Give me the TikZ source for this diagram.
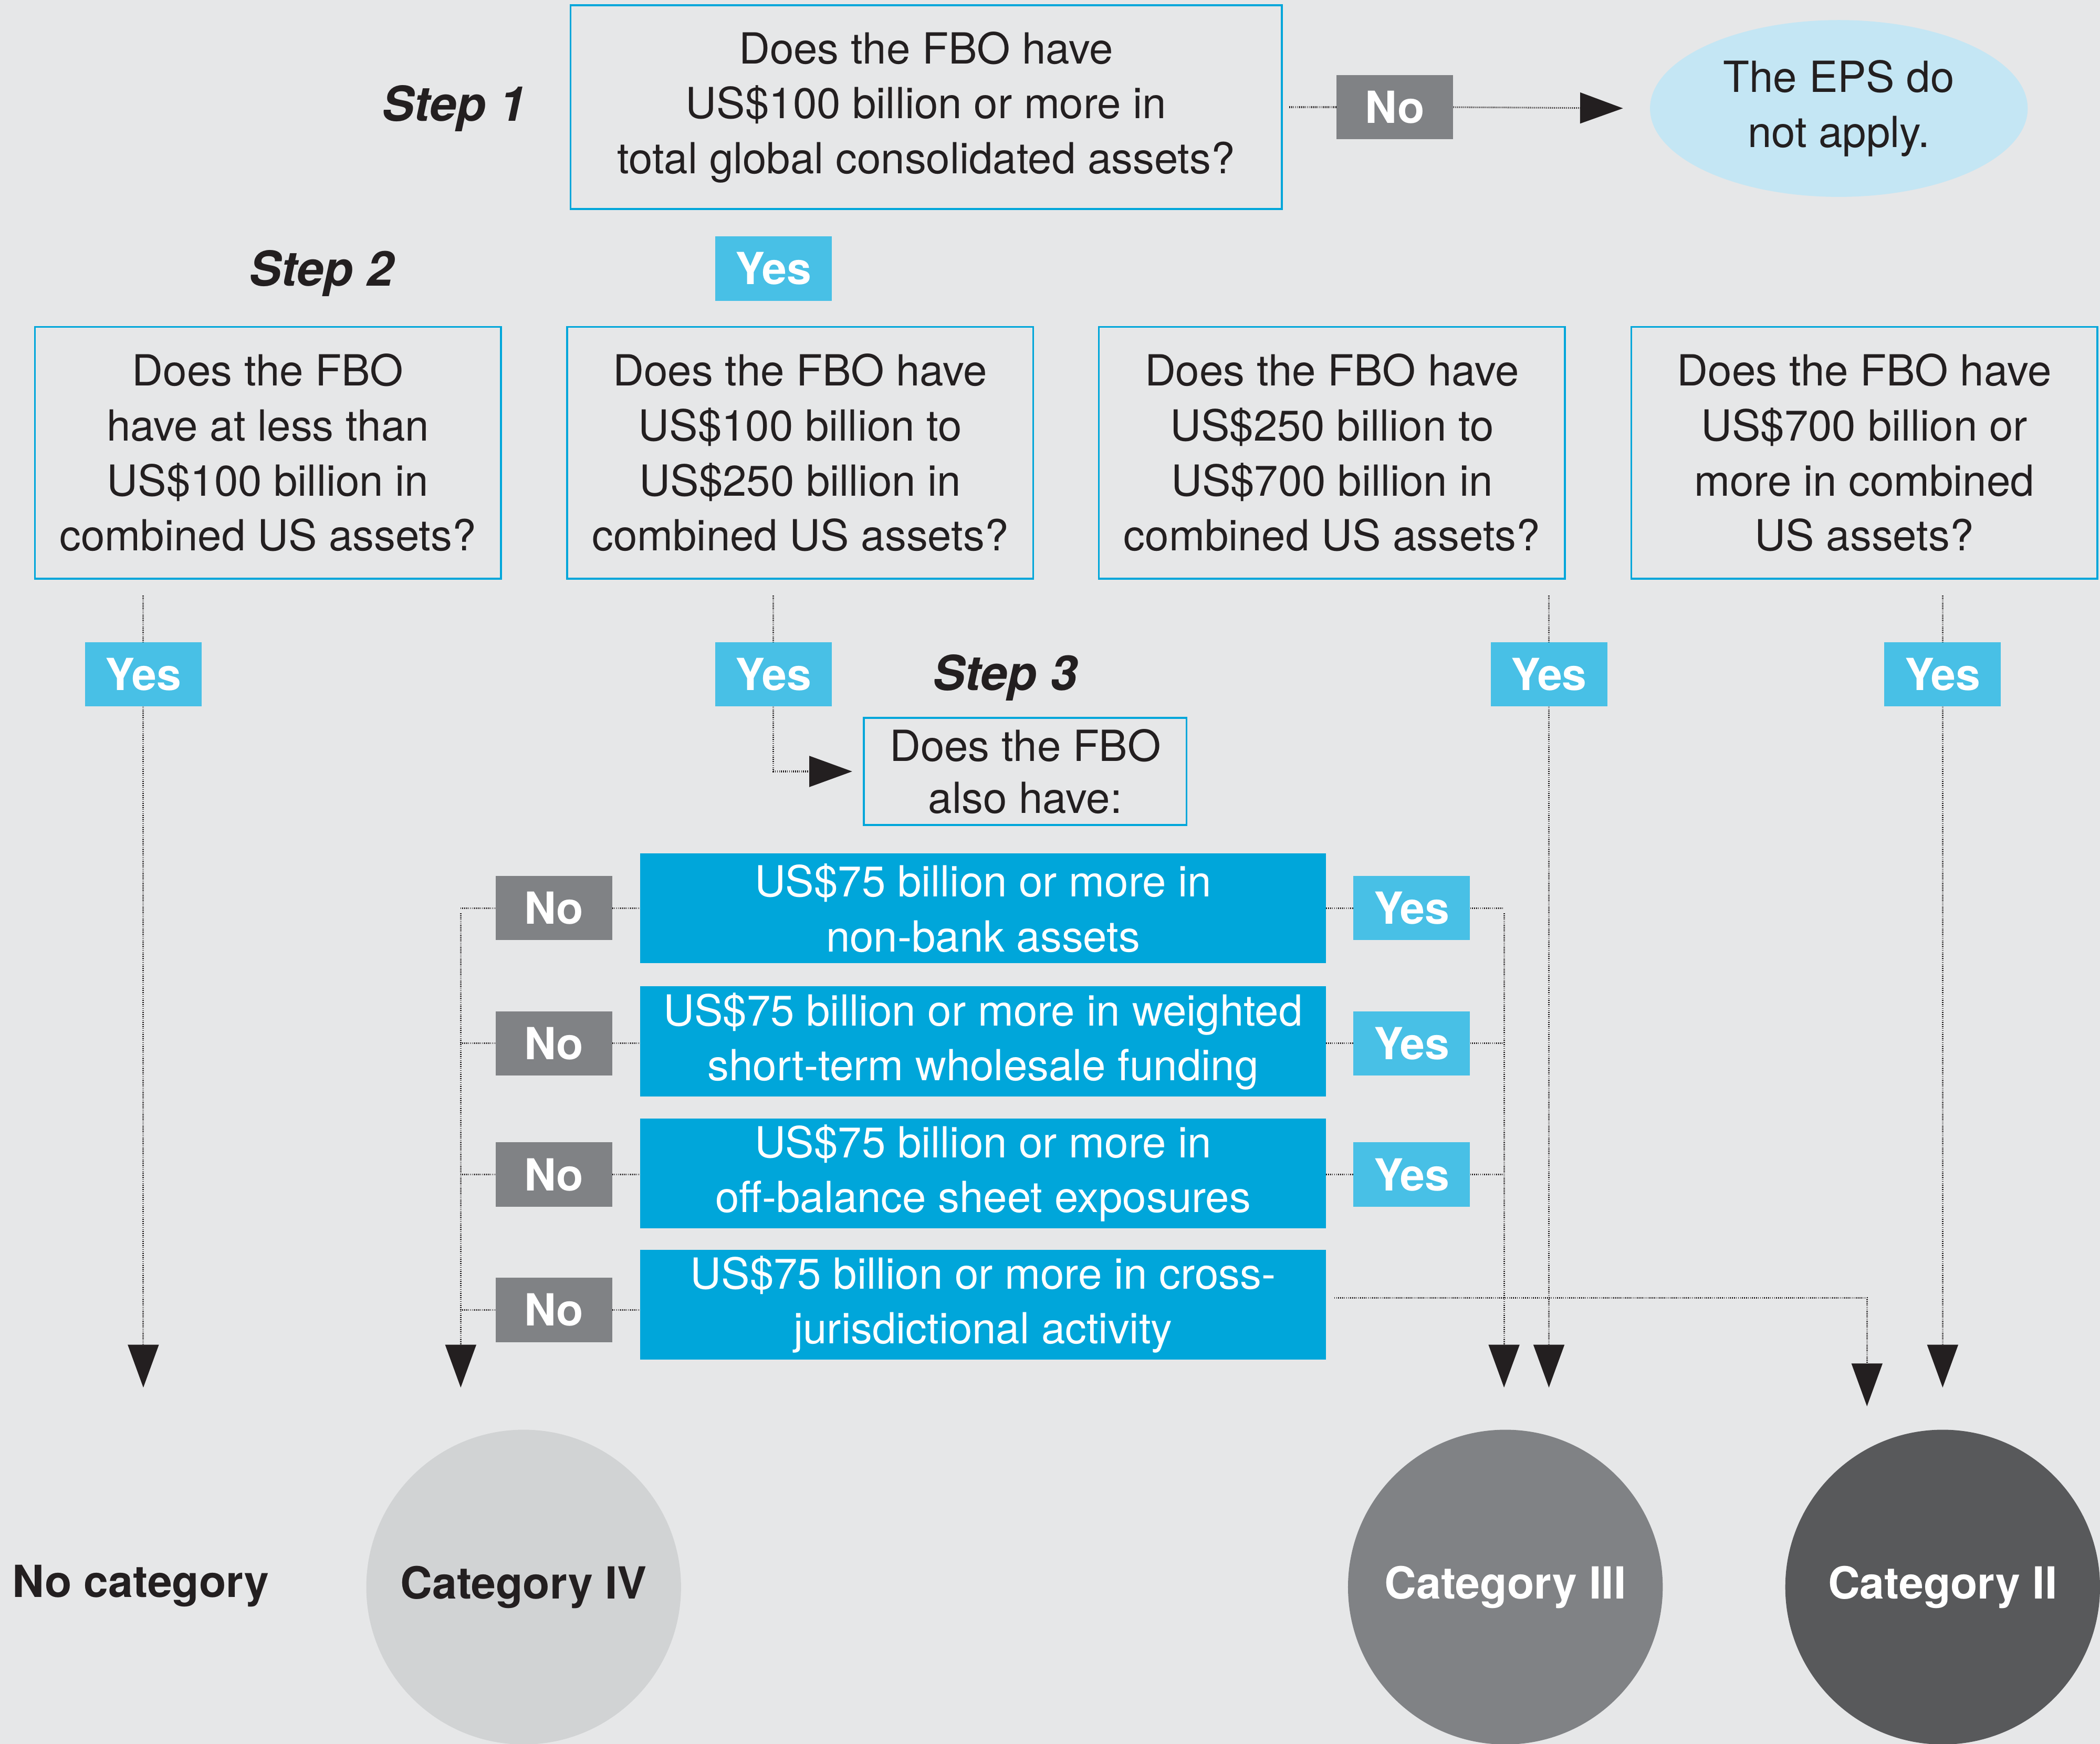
\documentclass[tikz,border=0pt]{standalone}
\usepackage{fontspec}
\setmainfont{TeX Gyre Heros}
\usetikzlibrary{arrows.meta,shapes.geometric}
\definecolor{bg}{HTML}{E6E7E8}
\definecolor{txt}{HTML}{231F20}
\definecolor{qblue}{HTML}{00A6DA}
\definecolor{yesc}{HTML}{48C0E6}
\definecolor{noc}{HTML}{808285}
\definecolor{bluec}{HTML}{00A6DA}
\definecolor{epsc}{HTML}{C4E6F4}
\definecolor{civ}{HTML}{D1D3D4}
\definecolor{ciii}{HTML}{808285}
\definecolor{cii}{HTML}{58595B}
\newcommand{\qfont}{\fontsize{32bp}{41bp}\selectfont}
\newcommand{\lfont}{\fontsize{33bp}{38bp}\selectfont\bfseries}
\newcommand{\sfont}{\fontsize{36bp}{40bp}\selectfont\bfseries\itshape}
\begin{document}
\begin{tikzpicture}[x=1bp,y=-1bp,
  qbox/.style={draw=qblue, line width=1.4bp, align=center, inner sep=0pt, text=txt, font=\qfont},
  bluebox/.style={fill=bluec, align=center, inner sep=0pt, text=white, font=\qfont, minimum width=512bp, minimum height=82bp},
  nobox/.style={fill=noc, inner sep=0pt, text=white, font=\lfont, minimum width=87bp, minimum height=48bp},
  yesbox/.style={fill=yesc, inner sep=0pt, text=white, font=\lfont, minimum width=87bp, minimum height=48bp},
  steplabel/.style={inner sep=0pt, text=txt, font=\sfont},
  catnode/.style={circle, inner sep=0pt, minimum size=235bp, font=\lfont},
  conn/.style={draw=txt, line width=1.2bp, dash pattern=on 0.6bp off 0.9bp},
  arr/.style={conn, -{Triangle[length=32bp,width=23bp]}}
]
\fill[bg] (0,0) rectangle (1568,1302);
\useasboundingbox (0,0) rectangle (1568,1302);

% Step 1
\node[qbox, minimum width=531bp, minimum height=152bp] (s1) at (691.5,80) {Does the FBO have\\US\$100 billion or more in\\total global consolidated assets?};
\node[steplabel, anchor=east] (st1) at (393,81) {Step 1};
\node[nobox] (n0) at (1041.5,80) {No};
\node[ellipse, fill=epsc, inner sep=0pt, minimum width=282bp, minimum height=132bp, align=center, text=txt, font=\qfont] (eps) at (1373,81) {The EPS do\\not apply.};
\node[yesbox] (y0) at (577.5,200.5) {Yes};

% Step 2
\node[steplabel] (st2) at (240,204) {Step 2};
\node[qbox, minimum width=348bp, minimum height=188bp] (q1) at (200,338) {Does the FBO\\have at less than\\US\$100 billion in\\combined US assets?};
\node[qbox, minimum width=348bp, minimum height=188bp] (q2) at (597.5,338) {Does the FBO have\\US\$100 billion to\\US\$250 billion in\\combined US assets?};
\node[qbox, minimum width=348bp, minimum height=188bp] (q3) at (994.5,338) {Does the FBO have\\US\$250 billion to\\US\$700 billion in\\combined US assets?};
\node[qbox, minimum width=348bp, minimum height=188bp] (q4) at (1392,338) {Does the FBO have\\US\$700 billion or\\more in combined\\US assets?};

\node[yesbox] (ya) at (107,503.5) {Yes};
\node[yesbox] (yb) at (577.5,503.5) {Yes};
\node[yesbox] (yc) at (1156.5,503.5) {Yes};
\node[yesbox] (yd) at (1450.5,503.5) {Yes};

% Step 3
\node[steplabel] (st3) at (750.5,506) {Step 3};
\node[qbox, minimum width=241bp, minimum height=80bp, font=\fontsize{32bp}{39bp}\selectfont] (s3) at (765.5,576) {Does the FBO\\also have:};

\node[bluebox] (b1) at (734,678) {US\$75 billion or more in\\non-bank assets};
\node[bluebox] (b2) at (734,777.5) {US\$75 billion or more in weighted\\short-term wholesale funding};
\node[bluebox] (b3) at (734,876) {US\$75 billion or more in\\off-balance sheet exposures};
\node[bluebox] (b4) at (734,974) {US\$75 billion or more in cross-\\jurisdictional activity};

\node[nobox] (n1) at (413.5,678) {No};
\node[nobox] (n2) at (413.5,779) {No};
\node[nobox] (n3) at (413.5,877) {No};
\node[nobox] (n4) at (413.5,978) {No};

\node[yesbox] (r1) at (1054,678) {Yes};
\node[yesbox] (r2) at (1054,779) {Yes};
\node[yesbox] (r3) at (1054,877) {Yes};

% outcomes
\node[inner sep=0pt, anchor=west, text=txt, font=\lfont] (nc) at (9,1184) {No category};
\node[catnode, fill=civ, text=txt] (c4) at (391,1185) {Category IV};
\node[catnode, fill=ciii, text=white] (c3) at (1124,1185) {Category III};
\node[catnode, fill=cii, text=white] (c2) at (1450.5,1185) {Category II};

\coordinate (ea) at (107,1036);
\coordinate (eL) at (344,1036);
\coordinate (eR) at (1123,1036);
\coordinate (ec) at (1156.5,1036);
\coordinate (e4) at (1394,1050);
\coordinate (ed) at (1450.5,1036);

% connectors
\draw[conn, shorten <=5bp] (s1.east) -- (n0.west);
\draw[arr, shorten >=20bp] (n0.east) -- (eps.west);

\draw[conn, shorten <=12bp] (q1.south -| ya) -- (ya.north);
\draw[arr] (ya.south) -- (ea);
\draw[conn, shorten <=12bp] (q2.south -| yb) -- (yb.north);
\draw[arr, shorten >=8bp] (yb.south) |- (s3.west);
\draw[conn, shorten <=12bp] (q3.south -| yc) -- (yc.north);
\draw[arr] (yc.south) -- (ec);
\draw[conn, shorten <=12bp] (q4.south -| yd) -- (yd.north);
\draw[arr] (yd.south) -- (ed);

\foreach \i in {1,2,3,4}{
  \draw[conn] (n\i.east) -- (n\i.east -| b\i.west);
  \draw[conn] (n\i.west) -- (n\i.west -| eL);
}
\foreach \i in {1,2,3}{
  \draw[conn] (r\i.west -| b\i.east) -- (r\i.west);
  \draw[conn] (r\i.east) -- (r\i.east -| eR);
}
\draw[arr, shorten <=4bp] (n1.west -| eL) -- (eL);
\draw[arr, shorten <=4bp] (r1.east -| eR) -- (eR);
\draw[arr, shorten <=6bp] ([yshift=5bp]b4.east) -| (e4);
\end{tikzpicture}
\end{document}
